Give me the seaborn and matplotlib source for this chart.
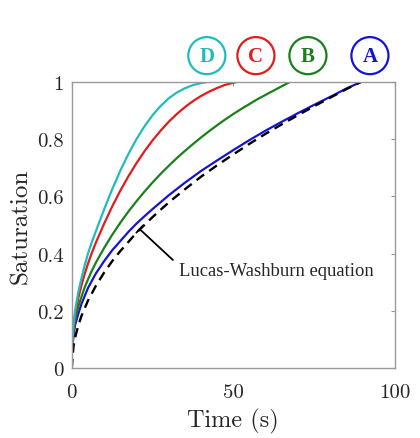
import matplotlib
matplotlib.use("Agg")
import matplotlib.pyplot as plt
import pandas as pd
import seaborn as sns

# ==========================
# Datos
# ==========================
t_lw = [0, 0.5, 1, 2, 3, 5, 7.5, 10, 12.5, 15, 20, 25, 30, 35, 40, 45, 50,
        55, 60, 65, 70, 75, 80, 85, 89.5]
s_lw = [0, 0.075, 0.106, 0.149, 0.183, 0.236, 0.289, 0.334, 0.374, 0.409,
        0.473, 0.528, 0.579, 0.625, 0.669, 0.709, 0.747, 0.784, 0.819, 0.852,
        0.884, 0.915, 0.945, 0.975, 1.0]

t_a = [0, 0.5, 1, 2, 3, 5, 7.5, 10, 12.5, 15, 17.5, 20, 22.5, 25, 30, 35, 40,
       45, 50, 55, 60, 65, 70, 75, 80, 85, 89.5]
s_a = [0.06, 0.11, 0.15, 0.19, 0.225, 0.28, 0.332, 0.374, 0.412, 0.444,
       0.476, 0.505, 0.531, 0.556, 0.604, 0.648, 0.689, 0.726, 0.762, 0.797,
       0.830, 0.861, 0.891, 0.920, 0.948, 0.977, 1.0]

t_b = [0, 0.5, 1, 2, 3, 4, 5, 6, 7.5, 10, 12.5, 15, 17.5, 20, 22.5, 25, 27.5,
       30, 32.5, 35, 37.5, 40, 42.5, 45, 47.5, 50, 52.5, 55, 57.5, 60, 62.5,
       65, 67.5]
s_b = [0.06, 0.125, 0.165, 0.215, 0.25, 0.283, 0.31, 0.336, 0.37, 0.42,
       0.466, 0.508, 0.547, 0.583, 0.617, 0.649, 0.679, 0.707, 0.734, 0.759,
       0.783, 0.806, 0.828, 0.849, 0.869, 0.888, 0.906, 0.923, 0.94, 0.955,
       0.97, 0.985, 1.0]

t_c = [0, 0.5, 1, 2, 3, 4, 5, 6, 7.5, 10, 12.5, 15, 17.5, 20, 22.5, 25, 27.5,
       30, 32.5, 35, 37.5, 40, 42.5, 45, 47.5, 51]
s_c = [0.06, 0.14, 0.185, 0.245, 0.29, 0.33, 0.365, 0.397, 0.44, 0.505,
       0.565, 0.62, 0.67, 0.716, 0.758, 0.796, 0.83, 0.861, 0.888, 0.912,
       0.933, 0.951, 0.966, 0.979, 0.99, 1.0]

t_d = [0, 0.5, 1, 2, 3, 4, 5, 6, 7.5, 10, 12.5, 15, 17.5, 20, 22.5, 25, 27.5,
       30, 32.5, 35, 37.5, 40, 42]
s_d = [0.06, 0.15, 0.20, 0.265, 0.315, 0.36, 0.40, 0.435, 0.48, 0.555,
       0.625, 0.69, 0.748, 0.80, 0.845, 0.884, 0.916, 0.943, 0.963, 0.978,
       0.989, 0.996, 1.0]

etiquetas = ["A", "B", "C", "D"]
colores = ["#1414d2", "#1a801a", "#e41a1c", "#20bcbc"]
x_etiquetas = [92.3, 73.1, 57.0, 41.8]

x_ticks = [0, 50, 100]
y_ticks = [0, 0.2, 0.4, 0.6, 0.8, 1]
y_tick_labels = ["0", "0.2", "0.4", "0.6", "0.8", "1"]

# ==========================
# Figura
# ==========================
sns.set_style("white")
plt.rcParams["font.family"] = ["cmr10", "DejaVu Serif"]
plt.rcParams["axes.formatter.use_mathtext"] = True

fig = plt.figure(figsize=(4.2, 4.39), dpi=100)
ax = fig.add_axes([0.171, 0.159, 0.769, 0.652])

curvas = [(t_a, s_a), (t_b, s_b), (t_c, s_c), (t_d, s_d)]
for (t, s), c in zip(curvas, colores):
    sns.lineplot(x=t, y=s, color=c, linewidth=1.6, ax=ax, sort=False)

df_lw = pd.DataFrame({"t": t_lw, "s": s_lw})
sns.lineplot(data=df_lw, x="t", y="s", color="black", linewidth=1.7,
             ax=ax, sort=False)
ax.lines[-1].set_dashes([4, 2.6])

ax.set_xlim(0, 100)
ax.set_ylim(0, 1)
ax.set_xticks(x_ticks)
ax.set_xticklabels([str(v) for v in x_ticks])
ax.set_yticks(y_ticks)
ax.set_yticklabels(y_tick_labels)
ax.tick_params(direction="in", length=3, width=0.8, color="#9a9a9a",
               labelsize=15, top=True, right=True)
ax.tick_params(axis="x", pad=11)
ax.tick_params(axis="y", pad=6)
for sp in ax.spines.values():
    sp.set_color("#9a9a9a")
    sp.set_linewidth(1.0)

ax.set_xlabel("Time (s)", fontsize=17.5, labelpad=5)
ax.set_ylabel("Saturation", fontsize=18, labelpad=3)

# Etiquetas en círculos
for lab, c, x in zip(etiquetas, colores, x_etiquetas):
    ax.text(x, 1.092, lab, color=c, fontsize=15, fontweight="bold",
            family="Liberation Serif", ha="center", va="center",
            clip_on=False,
            bbox=dict(boxstyle="circle,pad=0.41", fc="white", ec=c, lw=1.6))

# Anotación Lucas-Washburn
ax.annotate("", xy=(21.0, 0.486), xytext=(31.3, 0.378),
            arrowprops=dict(arrowstyle="-[, widthB=0.35, lengthB=0",
                            color="black", lw=1.3, shrinkA=0, shrinkB=0))
ax.text(33.1, 0.343, "Lucas-Washburn equation", fontsize=13.4,
        family="Liberation Serif", ha="left", va="center")

fig.savefig("out.png", dpi=100)
